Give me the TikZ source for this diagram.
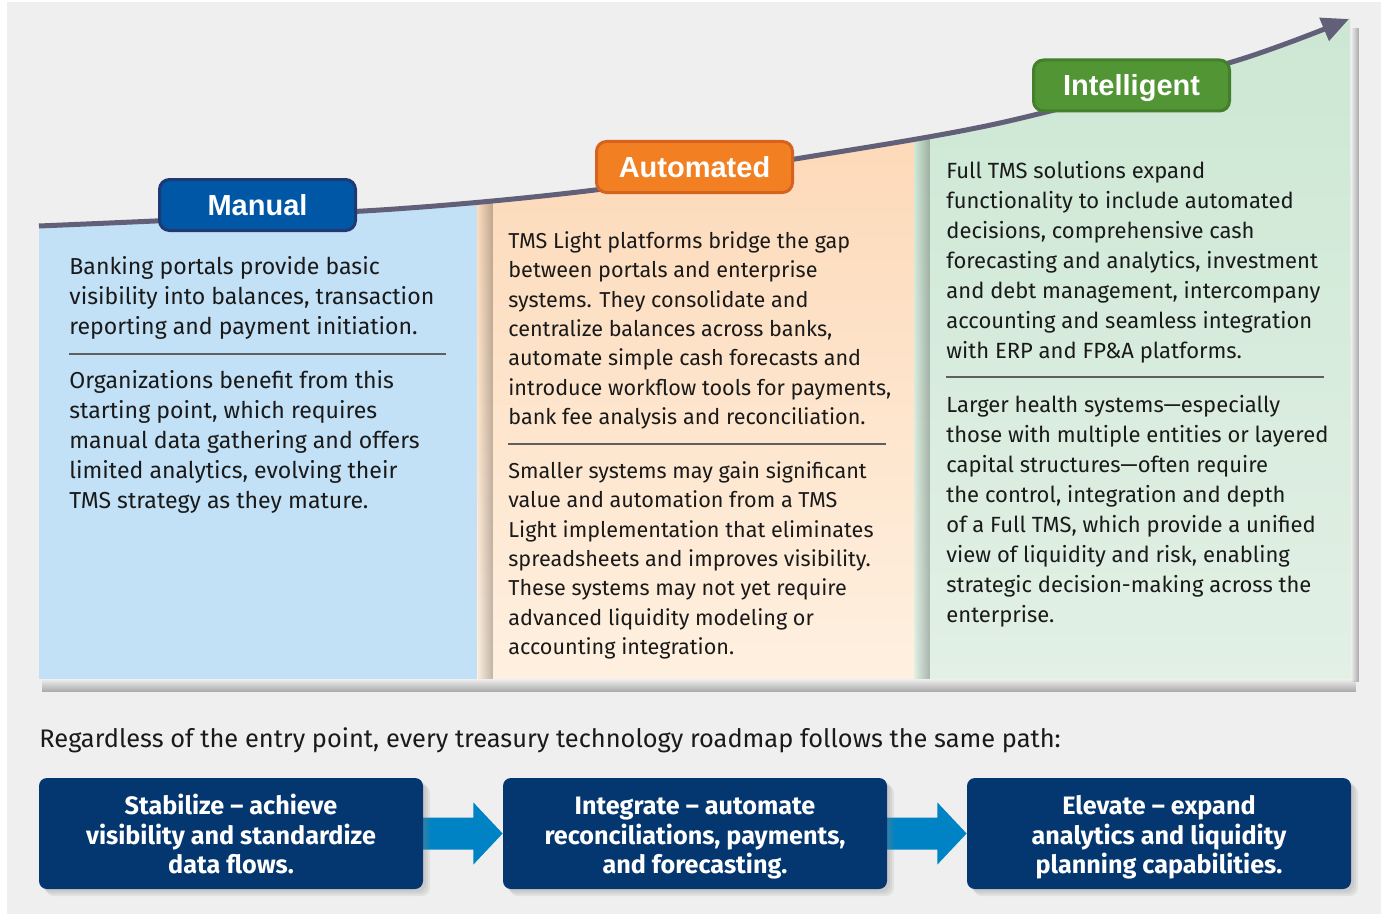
\documentclass[tikz,border=0pt]{standalone}
\usepackage{fontspec}
\setmainfont{Fira Sans}
\newfontfamily\tagfont{Liberation Sans}
\usetikzlibrary{arrows.meta,calc,shadows,fadings,backgrounds}

\definecolor{bggray}{HTML}{EFEFEF}
\definecolor{ridge}{HTML}{626079}
\definecolor{manualfill}{HTML}{0057A6}
\definecolor{manualedge}{HTML}{1F3A73}
\definecolor{autofill}{HTML}{F28023}
\definecolor{autoedge}{HTML}{D5621E}
\definecolor{smartfill}{HTML}{529535}
\definecolor{smartedge}{HTML}{447F2E}
\definecolor{paneblue}{HTML}{C2E1F6}
\definecolor{peachtop}{HTML}{FDD9B8}
\definecolor{peachbot}{HTML}{FEF0E0}
\definecolor{minttop}{HTML}{CCE7D3}
\definecolor{mintbot}{HTML}{E2F0E5}
\definecolor{navy}{HTML}{04366F}
\definecolor{flowblue}{HTML}{0083C5}
\definecolor{ink}{HTML}{1A1A1A}

\begin{document}
\begin{tikzpicture}[x=0.5pt,y=-0.5pt,
  stage/.style={draw, line width=1.5pt, rounded corners=5pt, text=white,
    font=\tagfont\bfseries\fontsize{14.5}{16}\selectfont,
    text height=10.4pt, text depth=0pt,
    minimum width=98pt, minimum height=25.5pt},
  para/.style={anchor=north west, inner sep=0pt, align=left, text=ink},
  stepcard/.style={fill=navy, rounded corners=4pt, text=white, align=center,
    font=\bfseries\fontsize{12.6}{14.75}\selectfont, inner sep=1pt,
    minimum width=192pt, minimum height=55.5pt,
    drop shadow={opacity=0.12, shadow xshift=1.5pt, shadow yshift=-1.5pt},
    drop shadow={opacity=0.12, shadow xshift=2.5pt, shadow yshift=-2.5pt},
    drop shadow={opacity=0.12, shadow xshift=3.5pt, shadow yshift=-3.5pt}},
  rule/.style={ink!70, line width=0.6pt}]
\useasboundingbox (0,0) rectangle (1381,915);
\begin{scope}[on background layer]
\fill[white] (0,0) rectangle (1381,915);
\fill[bggray] (7,2) rectangle (1381,914);
\end{scope}

% soft shadow along the bottom and right side of the panels
\fill[black, opacity=0.3, path fading=north] (42,679) rectangle (1357,692);
\fill[black, opacity=0.3, path fading=west] (1351,28) rectangle (1359,682);

% panels under the growth curve
\begin{scope}
\clip plot[smooth] coordinates {(39,226) (380,210) (595,190) (795,159) (1000,123) (1232,62) (1350,18)}
  -- (1351,679) -- (39,679) -- cycle;
\fill[paneblue] (39,0) rectangle (477,679);
\shade[top color=peachtop, bottom color=peachbot] (477,130) rectangle (914,679);
\shade[top color=minttop, bottom color=mintbot] (914,10) rectangle (1351,679);
\fill[black, opacity=0.25, path fading=west] (477,0) rectangle (493,679);
\fill[black, opacity=0.25, path fading=west] (914,0) rectangle (930,679);
\end{scope}

\draw[ridge, line width=2.5pt, -{Triangle[length=13.5pt,width=12pt]}]
  plot[smooth] coordinates {(39,226) (380,210) (595,190) (795,159) (1000,123) (1232,62) (1349,19)};

\node[stage, fill=manualfill, draw=manualedge] (manual) at (257.5,205) {Manual};
\node[stage, fill=autofill, draw=autoedge] (automated) at (694.5,167) {Automated};
\node[stage, fill=smartfill, draw=smartedge] (intelligent) at (1131.5,85.5) {Intelligent};

% manual
\node[para, font=\fontsize{11.55}{15}\selectfont] (manualA) at (69,256) {Banking portals provide basic\\visibility into balances, transaction\\reporting and payment initiation.};
\draw[rule] (69,354) -- (446,354);
\node[para, font=\fontsize{11.55}{15}\selectfont] (manualB) at (69,370) {Organizations benefit from this\\starting point, which requires\\manual data gathering and offers\\limited analytics, evolving their\\TMS strategy as they mature.};

% automated
\node[para, font=\fontsize{10.8}{14.7}\selectfont] (automatedA) at (508,231) {TMS Light platforms bridge the gap\\between portals and enterprise\\systems. They consolidate and\\centralize balances across banks,\\automate simple cash forecasts and\\introduce workflow tools for payments,\\bank fee analysis and reconciliation.};
\draw[rule] (508,444) -- (886,444);
\node[para, font=\fontsize{10.8}{14.7}\selectfont] (automatedB) at (508,461) {Smaller systems may gain significant\\value and automation from a TMS\\Light implementation that eliminates\\spreadsheets and improves visibility.\\These systems may not yet require\\advanced liquidity modeling or\\accounting integration.};

% intelligent
\node[para, font=\fontsize{11}{15}\selectfont] (intelligentA) at (946,161) {Full TMS solutions expand\\functionality to include automated\\decisions, comprehensive cash\\forecasting and analytics, investment\\and debt management, intercompany\\accounting and seamless integration\\with ERP and FP\&A platforms.};
\draw[rule] (946,377) -- (1324,377);
\node[para, font=\fontsize{11}{15}\selectfont] (intelligentB) at (946,395) {Larger health systems---especially\\those with multiple entities or layered\\capital structures---often require\\the control, integration and depth\\of a Full TMS, which provide a unified\\view of liquidity and risk, enabling\\strategic decision-making across the\\enterprise.};

% roadmap
\node[anchor=west, inner sep=0pt, text=ink, font=\fontsize{12.7}{15}\selectfont] (lead) at (39,740)
  {Regardless of the entry point, every treasury technology roadmap follows the same path:};

\node[stepcard] (stabilize) at (231,833.5) {\rule{0pt}{15.3pt}Stabilize -- achieve\\visibility and standardize\\data flows.\strut};
\node[stepcard] (integrate) at (695,833.5) {\rule{0pt}{15.3pt}Integrate -- automate\\reconciliations, payments,\\and forecasting.\strut};
\node[stepcard] (elevate) at (1159,833.5) {\rule{0pt}{15.3pt}Elevate -- expand\\analytics and liquidity\\planning capabilities.\strut};

\begin{scope}[on background layer]
\fill[flowblue] ($(stabilize.east)+(-6,-16)$) -- ($(stabilize.east)+(50,-16)$) -- ($(stabilize.east)+(50,-31)$)
  -- (integrate.west) -- ($(stabilize.east)+(50,31)$) -- ($(stabilize.east)+(50,16)$) -- ($(stabilize.east)+(-6,16)$) -- cycle;
\fill[flowblue] ($(integrate.east)+(-6,-16)$) -- ($(integrate.east)+(50,-16)$) -- ($(integrate.east)+(50,-31)$)
  -- (elevate.west) -- ($(integrate.east)+(50,31)$) -- ($(integrate.east)+(50,16)$) -- ($(integrate.east)+(-6,16)$) -- cycle;
\end{scope}
\end{tikzpicture}
\end{document}
